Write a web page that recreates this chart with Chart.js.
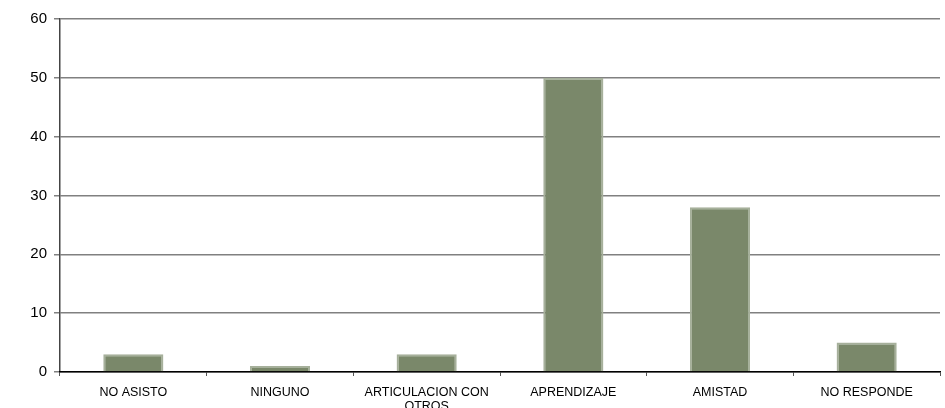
<!DOCTYPE html>
<html>
<head>
<meta charset="utf-8">
<script src="https://cdn.jsdelivr.net/npm/chart.js@4"></script>
<style>
  html, body { margin: 0; padding: 0; background: #fff; }
  #wrap { width: 945px; height: 408px; position: relative; }
</style>
</head>
<body>
<div id="wrap"><canvas id="barChart"></canvas></div>
<script>
const categories = ['NO ASISTO', 'NINGUNO', ['ARTICULACION CON', 'OTROS'], 'APRENDIZAJE', 'AMISTAD', 'NO RESPONDE'];
const values = [3, 1, 3, 50, 28, 5];
const yTicks = [0, 10, 20, 30, 40, 50, 60];

const ctx = document.getElementById('barChart');
new Chart(ctx, {
    type: 'bar',
    data: {
        labels: categories,
        datasets: [{
            data: values,
            backgroundColor: '#7a886a',
            borderColor: '#a6b09b',
            borderWidth: 2,
            categoryPercentage: 1,
            barPercentage: 0.41
        }]
    },
    options: {
        responsive: true,
        maintainAspectRatio: false,
        animation: false,
        layout: { padding: { top: 19, right: 5, left: 0, bottom: 0 } },
        plugins: {
            legend: { display: false },
            tooltip: { enabled: false }
        },
        scales: {
            y: {
                min: 0,
                max: 60,
                afterBuildTicks: s => { s.ticks = yTicks.map(v => ({ value: v })); },
                afterFit: s => { s.width = 60; },
                border: { color: '#444', width: 1.5 },
                grid: { color: '#808080', lineWidth: 1.5, tickLength: 6 },
                ticks: {
                    color: '#000',
                    padding: 7,
                    font: { family: 'Liberation Sans', size: 15 }
                }
            },
            x: {
                afterFit: s => { s.height = 36; },
                border: { color: '#000', width: 1.5 },
                grid: { display: true, offset: true, drawOnChartArea: false, color: '#555', tickLength: 4 },
                ticks: {
                    color: '#000',
                    maxRotation: 0,
                    autoSkip: false,
                    padding: 10,
                    font: { family: 'Liberation Sans', size: 12.5, lineHeight: 1.1 }
                }
            }
        }
    }
});
</script>
</body>
</html>
